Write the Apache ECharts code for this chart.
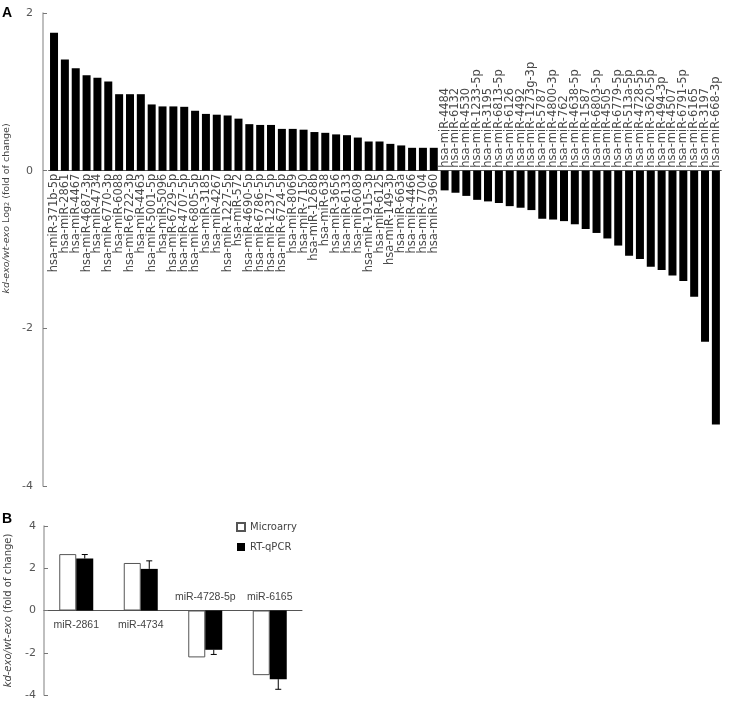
<!DOCTYPE html>
<html>
<head>
<meta charset="utf-8">
<script src="https://cdn.jsdelivr.net/npm/echarts@6/dist/echarts.min.js"></script>
<style>
html,body{margin:0;padding:0;background:#fff;}
#chart{width:739px;height:706px;}
</style>
</head>
<body>
<div id="chart"></div>
<script>
// ---- Panel A data ----
var mirNames = [
  'hsa-miR-371b-5p','hsa-miR-2861','hsa-miR-4467','hsa-miR-4687-3p','hsa-miR-4734','hsa-miR-6770-3p',
  'hsa-miR-6088','hsa-miR-6722-3p','hsa-miR-4463','hsa-miR-5001-5p','hsa-miR-5096','hsa-miR-6729-5p',
  'hsa-miR-4707-5p','hsa-miR-6805-5p','hsa-miR-3185','hsa-miR-4267','hsa-miR-1227-5p','hsa-miR-572',
  'hsa-miR-4690-5p','hsa-miR-6786-5p','hsa-miR-1237-5p','hsa-miR-6724-5p','hsa-miR-8069','hsa-miR-7150',
  'hsa-miR-1268b','hsa-miR-638','hsa-miR-3656','hsa-miR-6133','hsa-miR-6089','hsa-miR-1915-3p',
  'hsa-miR-6125','hsa-miR-149-3p','hsa-miR-663a','hsa-miR-4466','hsa-miR-7704','hsa-miR-3960',
  'hsa-miR-4484','hsa-miR-6132','hsa-miR-4530','hsa-miR-1233-5p','hsa-miR-3195','hsa-miR-6813-5p',
  'hsa-miR-6126','hsa-miR-4492','hsa-miR-1273g-3p','hsa-miR-5787','hsa-miR-4800-3p','hsa-miR-762',
  'hsa-miR-4638-5p','hsa-miR-1587','hsa-miR-6803-5p','hsa-miR-4505','hsa-miR-6779-5p','hsa-miR-513a-5p',
  'hsa-miR-4728-5p','hsa-miR-3620-5p','hsa-miR-494-3p','hsa-miR-4507','hsa-miR-6791-5p','hsa-miR-6165',
  'hsa-miR-3197','hsa-miR-668-3p'
];
var log2Fold = [
  1.75,1.41,1.30,1.21,1.18,1.13,
  0.97,0.97,0.97,0.84,0.815,0.815,
  0.81,0.76,0.72,0.71,0.70,0.66,
  0.59,0.58,0.58,0.53,0.53,0.52,
  0.49,0.48,0.46,0.45,0.42,0.37,
  0.37,0.34,0.32,0.29,0.29,0.29,
  -0.25,-0.28,-0.32,-0.37,-0.39,-0.41,
  -0.45,-0.47,-0.50,-0.61,-0.62,-0.64,
  -0.68,-0.74,-0.79,-0.86,-0.95,-1.08,
  -1.12,-1.22,-1.26,-1.33,-1.40,-1.60,
  -2.17,-3.22
];
var yTicksA = [-4, -2, 0, 2];

// ---- Panel B data ----
var validNames = ['miR-2861','miR-4734','miR-4728-5p','miR-6165'];
var microarray = [2.67, 2.25, -2.22, -3.06];
var rtqpcr = [2.46, 1.97, -1.86, -3.25];
var rtqpcrErr = [0.19, 0.38, 0.22, 0.48];
var yTicksB = [-4, -2, 0, 2, 4];

var FONT = 'DejaVu Sans';

var chart = echarts.init(document.getElementById('chart'), null, {renderer: 'canvas'});

var bandA = 10.85;

// Category names drawn at the zero line, on the side opposite to the bar
function zeroLabelsA(params, api) {
  var i = api.value(0), v = api.value(1);
  var p = api.coord([i, 0]);
  var pos = v >= 0;
  return {
    type: 'text',
    x: p[0], y: pos ? p[1] + 3 : p[1] - 3,
    rotation: Math.PI / 2,
    style: {
      text: mirNames[i],
      align: pos ? 'right' : 'left',
      verticalAlign: 'middle',
      font: '11.5px "' + FONT + '"',
      fill: '#4a4a4a'
    }
  };
}
function zeroLabelsB(params, api) {
  var i = api.value(0), v = api.value(1);
  var p = api.coord([i, 0]);
  var pos = v >= 0;
  return {
    type: 'text',
    x: p[0], y: pos ? p[1] + 9 : p[1] - 8,
    style: {
      text: validNames[i],
      align: 'center',
      verticalAlign: pos ? 'top' : 'bottom',
      font: '10.5px "Liberation Sans"',
      fill: '#444'
    }
  };
}

var option = {
  backgroundColor: '#fff',
  animation: false,
  grid: [
    {left: 48.6, top: 13, width: bandA * mirNames.length, height: 473, containLabel: false, outerBoundsMode: 'none'},
    {left: 44, top: 526, width: 258, height: 169, containLabel: false, outerBoundsMode: 'none'}
  ],
  legend: {
    orient: 'vertical',
    left: 231, top: 517,
    itemWidth: 8, itemHeight: 8, itemGap: 10,
    icon: 'rect',
    textStyle: {fontFamily: FONT, fontSize: 10, color: '#444'},
    data: ['Microarry', 'RT-qPCR']
  },
  xAxis: [
    {
      type: 'category', gridIndex: 0, data: mirNames,
      axisLine: {onZero: true, onZeroAxisIndex: 0, lineStyle: {color: '#555', width: 1}},
      axisTick: {show: false},
      axisLabel: {show: false}
    },
    {
      type: 'category', gridIndex: 1, data: validNames,
      axisLine: {onZero: true, onZeroAxisIndex: 1, lineStyle: {color: '#555', width: 1}},
      axisTick: {show: false},
      axisLabel: {show: false}
    }
  ],
  yAxis: [
    {
      type: 'value', gridIndex: 0, min: yTicksA[0], max: yTicksA[yTicksA.length - 1], interval: 2,
      offset: 5.6,
      axisLine: {show: true, lineStyle: {color: '#aaa', width: 1.5}},
      axisTick: {show: true, inside: true, length: 4, lineStyle: {color: '#777'}},
      splitLine: {show: false},
      axisLabel: {fontFamily: FONT, fontSize: 11, color: '#555', margin: 10},
      name: '{i|kd-exo/wt-exo} Log{s|2} (fold of change)',
      nameLocation: 'middle', nameGap: 31,
      nameTextStyle: {
        fontFamily: FONT, fontSize: 9.5, color: '#444',
        padding: [0, 0, 0, 82],
        rich: {
          i: {fontFamily: FONT, fontSize: 9.5, fontStyle: 'italic', color: '#444'},
          s: {fontFamily: FONT, fontSize: 6.5, color: '#444', verticalAlign: 'bottom', padding: [3, 0, 0, 0]}
        }
      }
    },
    {
      type: 'value', gridIndex: 1, min: yTicksB[0], max: yTicksB[yTicksB.length - 1], interval: 2,
      axisLine: {show: true, lineStyle: {color: '#aaa', width: 1.5}},
      axisTick: {show: true, inside: true, length: 4, lineStyle: {color: '#777'}},
      splitLine: {show: false},
      axisLabel: {fontFamily: FONT, fontSize: 11, color: '#555', margin: 8},
      name: '{i|kd-exo/wt-exo} (fold of change)',
      nameLocation: 'middle', nameGap: 31,
      nameTextStyle: {
        fontFamily: FONT, fontSize: 10, color: '#444',
        rich: {
          i: {fontFamily: FONT, fontSize: 10, fontStyle: 'italic', color: '#444'}
        }
      }
    }
  ],
  series: [
    {
      type: 'bar', xAxisIndex: 0, yAxisIndex: 0,
      data: log2Fold, barWidth: 8,
      itemStyle: {color: '#000'}
    },
    {
      type: 'custom', xAxisIndex: 0, yAxisIndex: 0,
      data: log2Fold.map(function (v, i) { return [i, v]; }),
      renderItem: zeroLabelsA,
      silent: true
    },
    {
      name: 'Microarry', type: 'bar', xAxisIndex: 1, yAxisIndex: 1,
      data: microarray, barWidth: 17, barGap: '0%',
      itemStyle: {color: '#fff', borderColor: '#555', borderWidth: 1}
    },
    {
      name: 'RT-qPCR', type: 'bar', xAxisIndex: 1, yAxisIndex: 1,
      data: rtqpcr, barWidth: 17, barGap: '0%',
      itemStyle: {color: '#000'}
    },
    {
      type: 'custom', xAxisIndex: 1, yAxisIndex: 1,
      data: rtqpcr.map(function (v, i) { return [i, v, rtqpcrErr[i]]; }),
      renderItem: function (params, api) {
        var idx = api.value(0), v = api.value(1), e = api.value(2);
        var end = v >= 0 ? v + e : v - e;
        var p0 = api.coord([idx, v]);
        var p1 = api.coord([idx, end]);
        var x = p0[0] + 8.5;
        var cap = 3;
        return {
          type: 'group',
          children: [
            {type: 'line', shape: {x1: x, y1: p0[1], x2: x, y2: p1[1]}, style: {stroke: '#000', lineWidth: 1}},
            {type: 'line', shape: {x1: x - cap, y1: p1[1], x2: x + cap, y2: p1[1]}, style: {stroke: '#000', lineWidth: 1}}
          ]
        };
      },
      z: 5
    },
    {
      type: 'custom', xAxisIndex: 1, yAxisIndex: 1,
      data: rtqpcr.map(function (v, i) { return [i, v]; }),
      renderItem: zeroLabelsB,
      silent: true
    }
  ],
  graphic: [
    {type: 'text', left: 2, top: 6, style: {text: 'A', font: 'bold 14px "Liberation Sans"', fill: '#000'}},
    {type: 'text', left: 2, top: 512, style: {text: 'B', font: 'bold 14px "Liberation Sans"', fill: '#000'}}
  ]
};
chart.setOption(option);
</script>
</body>
</html>
